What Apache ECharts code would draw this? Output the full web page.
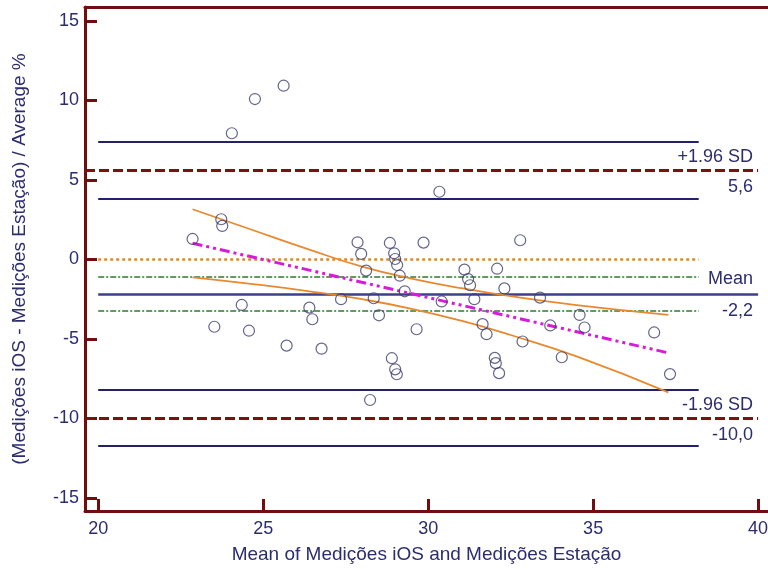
<!DOCTYPE html>
<html>
<head>
<meta charset="utf-8">
<script src="https://cdn.jsdelivr.net/npm/echarts@6/dist/echarts.min.js"></script>
<style>
html, body { margin: 0; padding: 0; background: #fff; }
#main { width: 768px; height: 569px; }
</style>
</head>
<body>
<div id="main"></div>
<script>
// mean of the two methods (x) and % difference (y)
var xMean = [22.86, 23.73, 23.76, 24.05, 24.75, 25.62, 23.52, 24.35, 24.57, 25.71,
	26.40, 26.49, 26.77, 27.36, 27.86, 27.97, 28.12, 28.24, 28.35, 28.51,
	28.84, 28.97, 29.00, 29.06, 29.14, 29.29, 28.90, 29.00, 29.05, 29.65,
	29.86, 30.34, 30.41, 31.10, 31.21, 31.27, 31.40, 31.65, 31.77, 32.02,
	32.05, 32.15, 32.09, 32.31, 32.79, 32.86, 33.39, 33.70, 34.05, 34.59,
	34.74, 36.85, 37.33];
var yDiff = [1.29, 2.53, 2.11, 7.94, 10.09, 10.93, -4.23, -2.86, -4.48, -5.42,
	-3.03, -3.76, -5.61, -2.50, 1.08, 0.35, -0.70, -8.84, -2.44, -3.51,
	1.04, 0.39, 0.03, -0.35, -1.02, -2.00, -6.21, -6.91, -7.22, -4.39,
	1.06, 4.26, -2.64, -0.64, -1.23, -1.62, -2.50, -4.07, -4.70, -6.19,
	-6.52, -7.15, -0.58, -1.82, 1.21, -5.16, -2.40, -4.15, -6.15, -3.49,
	-4.28, -4.59, -7.21];

var meanDiff = -2.2, upperLoA = 5.6, lowerLoA = -10.0;
var meanCI = [-3.2, -1.1];
var upperLoACI = [3.8, 7.4];
var lowerLoACI = [-11.7, -8.2];

// regression line and its confidence band
var regX = [22.86, 37.33], regY = [1.02, -5.9];
var bandX = [22.86, 24.5, 26.4, 28.0, 29.5, 31.0, 32.5, 34.5, 37.28];
var bandUpper = [3.16, 1.98, 0.62, -0.45, -1.2, -1.8, -2.31, -2.87, -3.48];
var bandLower = [-1.12, -1.5, -2.0, -2.5, -3.1, -3.85, -4.75, -6.1, -8.36];

var xTicks = [20, 25, 30, 35, 40];
var yTicks = [-15, -10, -5, 0, 5, 10, 15];

var xMin = 19.6, xMax = 40.3;
var lineStart = 20, lineEnd = 38.2, limitEnd = 40;

var navy = '#2b2d6e', maroon = '#6e0e0e';
var fontFam = '"Liberation Sans", Arial, sans-serif';

function zip(a, b) {
	var out = [];
	for (var i = 0; i < a.length; i++) out.push([a[i], b[i]]);
	return out;
}
function fmt(v) { return v.toFixed(1).replace('.', ','); }

function seg(x0, x1, y, style, label) {
	return [
		{ coord: [x0, y], lineStyle: style, label: label || { show: false } },
		{ coord: [x1, y] }
	];
}
function lbl(text, pos, dist) {
	return { show: true, formatter: text, position: pos, distance: dist,
		color: navy, fontSize: 18, fontFamily: fontFam };
}

var ciStyle = { color: '#22226a', width: 2, type: 'solid' };
var loaStyle = { color: '#7b1212', width: 3, type: [10, 4] };
var hidden = { color: 'rgba(0,0,0,0)', width: 1 };

var lines = [
	seg(lineStart, lineEnd, upperLoACI[1], ciStyle),
	seg(lineStart, lineEnd, upperLoACI[0], ciStyle),
	seg(lineStart, lineEnd, lowerLoACI[1], ciStyle),
	seg(lineStart, lineEnd, lowerLoACI[0], ciStyle),
	seg(lineStart, lineEnd, 0, { color: '#d98a2c', width: 2.5, type: [3, 3] }),
	seg(lineStart, lineEnd, meanCI[1], { color: '#2f7a2f', width: 1.5, type: [6, 2, 2, 2] }),
	seg(lineStart, lineEnd, meanCI[0], { color: '#2f7a2f', width: 1.5, type: [6, 2, 2, 2] }),
	seg(xMin, limitEnd, upperLoA, loaStyle, lbl('+1.96 SD', 'insideEndTop', [5, 4])),
	seg(xMin, limitEnd, upperLoA, hidden, lbl(fmt(upperLoA), 'insideEndBottom', [5, 8])),
	seg(xMin, limitEnd, lowerLoA, loaStyle, lbl('-1.96 SD', 'insideEndTop', [5, 4])),
	seg(xMin, limitEnd, lowerLoA, hidden, lbl(fmt(lowerLoA), 'insideEndBottom', [5, 8])),
	seg(lineStart, limitEnd, meanDiff, { color: '#3d3f8a', width: 2.5, type: 'solid' }, lbl('Mean', 'insideEndTop', [5, 6])),
	seg(lineStart, limitEnd, meanDiff, hidden, lbl(fmt(meanDiff), 'insideEndBottom', [5, 8]))
];

var myChart = echarts.init(document.getElementById('main'));

var axisLine = { show: true, onZero: false, lineStyle: { color: maroon, width: 3 } };
var axisTick = { show: true, inside: true, length: 12, lineStyle: { color: maroon, width: 3 } };

var option = {
	animation: false,
	backgroundColor: '#fff',
	grid: { left: 85, right: 0, top: 7, bottom: 58, containLabel: false, outerBoundsMode: 'none' },
	xAxis: [{
		type: 'value',
		min: xMin,
		max: xMax,
		name: 'Mean of Medições iOS and Medições Estação',
		nameLocation: 'middle',
		nameGap: 34,
		nameTextStyle: { color: navy, fontSize: 19, fontFamily: fontFam },
		axisLine: axisLine,
		axisTick: Object.assign({ customValues: xTicks }, axisTick),
		axisLabel: { customValues: xTicks, color: navy, fontSize: 18, fontFamily: fontFam, margin: 9 },
		splitLine: { show: false }
	}, {
		type: 'value',
		position: 'top',
		min: xMin,
		max: xMax,
		axisLine: axisLine,
		axisTick: { show: false },
		axisLabel: { show: false },
		splitLine: { show: false }
	}],
	yAxis: {
		type: 'value',
		min: -15.82,
		max: 15.88,
		name: '(Medições iOS - Medições Estação) / Average %',
		nameLocation: 'middle',
		nameGap: 56,
		nameTextStyle: { color: navy, fontSize: 19, fontFamily: fontFam },
		axisLine: axisLine,
		axisTick: Object.assign({ customValues: yTicks }, axisTick),
		axisLabel: { customValues: yTicks, color: navy, fontSize: 18, fontFamily: fontFam, margin: 6 },
		splitLine: { show: false }
	},
	series: [
		{
			type: 'line',
			data: zip(bandX, bandUpper),
			smooth: true,
			symbol: 'none',
			lineStyle: { color: '#e8892f', width: 1.8 },
			z: 3
		},
		{
			type: 'line',
			data: zip(bandX, bandLower),
			smooth: true,
			symbol: 'none',
			lineStyle: { color: '#e8892f', width: 1.8 },
			z: 3
		},
		{
			type: 'line',
			data: zip(regX, regY),
			symbol: 'none',
			lineStyle: { color: '#d81bd8', width: 3, type: [10, 4, 3, 4, 3, 4] },
			z: 4
		},
		{
			type: 'scatter',
			data: zip(xMean, yDiff),
			symbol: 'circle',
			symbolSize: 11,
			itemStyle: { color: 'rgba(255,255,255,0)', borderColor: '#3c3f6e', borderWidth: 1.2 },
			z: 5,
			markLine: {
				silent: true,
				symbol: 'none',
				z: 2,
				data: lines
			}
		}
	]
};

myChart.setOption(option);
</script>
</body>
</html>
